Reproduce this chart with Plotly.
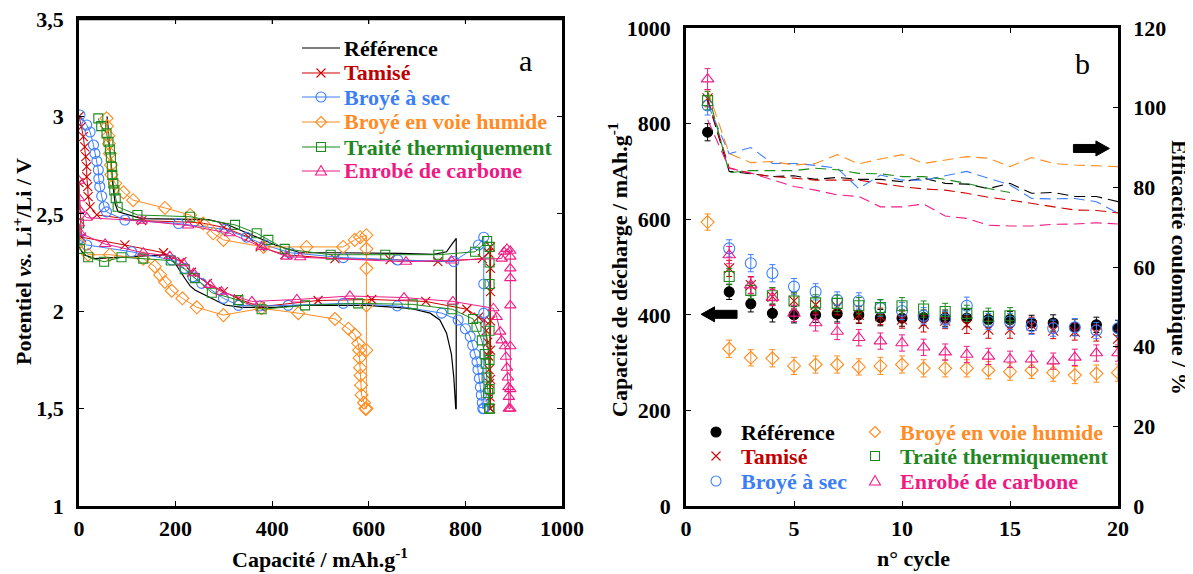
import plotly.graph_objects as go

FONT = "Liberation Serif, Times New Roman, Times, serif"

names = ["Référence", "Tamisé", "Broyé à sec", "Broyé en voie humide",
         "Traité thermiquement", "Enrobé de carbone"]
colors = ["#000000", "#d10000", "#3d7fff", "#ff8c1f", "#1d8a1d", "#f01c86"]
text_colors = ["#000000", "#c00000", "#3b7ef5", "#ff8c26", "#1e8622", "#ee1a85"]

# ---------------- Panel a : potential vs capacity ----------------
ref_cap = [0, 10, 33, 100, 183, 199, 210, 219, 230, 240, 268, 302, 337, 406, 458, 596, 685, 727, 747, 761, 771, 776, 780,
           781, 781, 781, 771, 761, 734, 665, 527, 458, 406, 351, 302, 268, 130, 81, 75, 70, 66, 63, 60, 58]
ref_v = [2.33, 2.29, 2.27, 2.28, 2.29, 2.246, 2.20, 2.169, 2.13, 2.109, 2.074, 2.032, 2.02, 2.02, 2.03, 2.03, 2.015, 1.99, 1.955, 1.887, 1.78, 1.66, 1.5,
         1.5, 2.0, 2.374, 2.34, 2.305, 2.292, 2.297, 2.30, 2.30, 2.34, 2.40, 2.45, 2.47, 2.475, 2.51, 2.55, 2.65, 2.75, 2.85, 2.95, 3.0]

tam_dis_cap = [0, 5, 95, 175, 213, 233, 266, 299, 330, 375, 495, 606, 718, 803, 827, 839, 843, 846, 848, 849, 850, 851, 851]
tam_dis_v = [2.66, 2.38, 2.34, 2.30, 2.254, 2.20, 2.143, 2.10, 2.063, 2.023, 2.055, 2.06, 2.05, 2.01, 1.97, 1.955, 1.90, 1.84, 1.77, 1.70, 1.63, 1.56, 1.5]
tam_ch_cap = [852, 852, 852, 852, 852, 852, 852, 848, 835, 743, 644, 530, 426, 375, 351, 300, 250, 130,
              37, 23, 19, 18, 16, 16, 14, 12, 9, 5, 0]
tam_ch_v = [1.5, 1.65, 1.8, 1.95, 2.1, 2.22, 2.33, 2.30, 2.27, 2.254, 2.265, 2.27, 2.29, 2.33, 2.38, 2.43, 2.455, 2.465,
            2.494, 2.536, 2.588, 2.64, 2.69, 2.742, 2.793, 2.844, 2.896, 2.947, 3.0]

bas_dis_cap = [0, 16, 109, 192, 219, 236, 254, 299, 330, 375, 433, 547, 659, 751, 785, 800, 810, 815, 820, 824,
               826, 829, 831, 833, 835, 836]
bas_dis_v = [2.37, 2.34, 2.305, 2.263, 2.22, 2.177, 2.143, 2.066, 2.03, 2.027, 2.03, 2.04, 2.027, 1.99, 1.955, 1.91,
             1.87, 1.825, 1.78, 1.74, 1.70, 1.655, 1.61, 1.57, 1.53, 1.5]
bas_ch_cap = [838, 838, 838, 838, 827, 776, 660, 547, 437, 385, 347, 302, 206, 95,
              57, 52, 47, 43, 41, 40, 37, 33, 30, 23, 16, 2]
bas_ch_v = [1.5, 1.99, 2.14, 2.38, 2.34, 2.255, 2.263, 2.275, 2.30, 2.34, 2.38, 2.42, 2.45, 2.468,
            2.51, 2.536, 2.59, 2.64, 2.68, 2.725, 2.77, 2.81, 2.853, 2.92, 2.956, 3.007]

hum_dis_cap = [0, 19, 64, 133, 157, 168, 178, 192, 214, 244, 299, 378, 454, 530, 558, 571, 578, 580, 581, 582,
               583, 584, 585, 590, 593]
hum_dis_v = [2.35, 2.29, 2.29, 2.27, 2.23, 2.186, 2.15, 2.105, 2.066, 2.02, 1.98, 2.015, 1.99, 1.96, 1.91, 1.88,
             1.835, 1.80, 1.76, 1.71, 1.67, 1.62, 1.57, 1.53, 1.5]
hum_ch_cap = [595, 595, 595, 595, 595, 595, 582, 571, 547, 471, 382, 299, 278, 257, 230, 178, 112, 92, 75, 67,
              66, 64, 62, 61, 58, 57]
hum_ch_v = [1.5, 1.80, 2.03, 2.22, 2.32, 2.39, 2.38, 2.366, 2.33, 2.33, 2.33, 2.366, 2.40, 2.45, 2.494, 2.53,
            2.57, 2.61, 2.656, 2.70, 2.75, 2.81, 2.86, 2.90, 2.95, 2.99]

trt_dis_cap = [0, 2, 19, 52, 88, 133, 190, 219, 240, 275, 330, 378, 468, 578, 691, 773, 816, 823, 834, 840,
               842, 844, 847, 849]
trt_dis_v = [2.45, 2.32, 2.277, 2.254, 2.277, 2.27, 2.26, 2.215, 2.17, 2.095, 2.057, 2.01, 2.03, 2.04, 2.035,
             2.01, 1.96, 1.92, 1.85, 1.78, 1.73, 1.66, 1.58, 1.5]
trt_ch_cap = [850, 850, 850, 850, 850, 850, 850, 845, 820, 744, 634, 521, 426, 392, 368, 323, 230, 121, 80, 76,
              73, 71, 69, 68, 66, 64, 61, 57, 46, 40]
trt_ch_v = [1.5, 1.6, 1.75, 1.9, 2.14, 2.25, 2.33, 2.36, 2.305, 2.29, 2.29, 2.29, 2.32, 2.366, 2.40, 2.443,
            2.485, 2.494, 2.536, 2.58, 2.62, 2.656, 2.70, 2.74, 2.79, 2.83, 2.87, 2.913, 2.95, 2.99]

car_dis_cap = [0, 3, 54, 133, 188, 216, 237, 271, 295, 358, 451, 561, 673, 774, 858, 865, 872, 875, 882, 884,
               886, 888, 889, 890, 890]
car_dis_v = [2.45, 2.40, 2.345, 2.30, 2.283, 2.246, 2.195, 2.135, 2.10, 2.05, 2.06, 2.078, 2.07, 2.05, 2.015,
             1.97, 1.895, 1.85, 1.82, 1.766, 1.71, 1.66, 1.61, 1.56, 1.5]
car_ch_cap = [893, 893, 893, 893, 893, 893, 893, 893, 886, 880, 875, 771, 677, 458, 430, 378, 312, 226, 130, 16,
              1, 0, 0]
car_ch_v = [1.5, 1.6, 1.82, 2.03, 2.17, 2.22, 2.28, 2.31, 2.32, 2.305, 2.27, 2.26, 2.254, 2.277, 2.28, 2.33,
            2.40, 2.44, 2.464, 2.48, 2.52, 2.58, 2.67]

# ---------------- Panel b : cycling ----------------
cycles = list(range(1, 21))
cycles_trt = list(range(1, 16))

cap_ref = [782, 448, 423, 403, 400, 400, 402, 400, 394, 393, 394, 393, 393, 390, 390, 383, 383, 374, 379, 372]
cap_tam = [853, 497, 462, 438, 429, 421, 417, 400, 397, 390, 381, 388, 379, 369, 369, 378, 367, 365, 362, 350]
cap_bas = [838, 539, 508, 487, 459, 448, 431, 429, 414, 408, 398, 390, 419, 386, 386, 376, 372, 374, 367, 372]
cap_hum = [594, 329, 310, 309, 293, 296, 296, 291, 293, 296, 288, 288, 288, 284, 281, 284, 279, 274, 277, 279]
cap_trt = [848, 480, 451, 440, 429, 425, 424, 419, 415, 419, 412, 407, 403, 397, 398]
cap_car = [893, 525, 462, 436, 403, 383, 365, 352, 345, 341, 332, 322, 317, 313, 307, 307, 303, 311, 320, 320]

err_ref = [18, 16, 17, 18, 17, 16, 17, 18, 17, 17, 16, 17, 18, 17, 17, 16, 17, 17, 16, 16]
err_tam = [18, 17, 18, 18, 17, 17, 17, 17, 17, 18, 17, 17, 18, 18, 18, 17, 17, 18, 17, 18]
err_bas = [20, 18, 18, 18, 17, 17, 17, 17, 17, 18, 17, 17, 18, 17, 17, 17, 17, 18, 17, 17]
err_hum = [17, 18, 17, 18, 18, 18, 18, 17, 18, 18, 18, 18, 18, 18, 18, 17, 18, 18, 18, 18]
err_trt = [19, 17, 17, 17, 17, 17, 17, 17, 17, 17, 17, 17, 17, 17, 17]
err_car = [22, 18, 17, 17, 17, 17, 17, 17, 17, 17, 17, 17, 17, 17, 17, 17, 17, 17, 17, 17]

eff_ref = [101.9, 84.0, 83.4, 82.7, 82.9, 82.0, 82.5, 82.0, 82.0, 81.4, 82.3, 81.0, 80.8, 79.7, 81.0, 78.5, 78.7, 77.7, 77.7, 76.4]
eff_tam = [102.3, 84.9, 83.5, 82.7, 82.3, 81.8, 81.8, 81.8, 81.0, 80.2, 79.6, 79.3, 78.5, 77.5, 76.8, 76.0, 75.1, 74.3, 74.2, 73.6]
eff_bas = [101.0, 88.4, 90.0, 86.0, 86.0, 85.5, 84.8, 79.7, 83.1, 81.8, 81.8, 82.9, 84.0, 82.3, 80.6, 77.2, 77.1, 77.2, 76.4, 73.5]
eff_hum = [104.4, 88.5, 86.2, 86.5, 85.6, 86.0, 88.2, 85.9, 87.1, 88.2, 86.0, 86.9, 87.7, 87.3, 85.2, 87.5, 86.0, 85.6, 85.4, 85.2]
eff_trt = [104.0, 83.7, 84.2, 84.2, 84.2, 84.8, 84.4, 83.5, 83.4, 82.7, 82.7, 82.0, 81.0, 79.7, 78.7]
eff_car = [97.0, 84.8, 83.6, 81.8, 80.2, 79.3, 78.1, 77.7, 75.1, 75.1, 75.8, 72.8, 72.2, 70.5, 70.3, 70.3, 70.7, 70.8, 71.1, 70.8]

x_ticks_a = [0, 200, 400, 600, 800, 1000]
y_ticks_a = [1, 1.5, 2, 2.5, 3, 3.5]
y_ticktext_a = ["1", "1,5", "2", "2,5", "3", "3,5"]
x_ticks_b = [0, 5, 10, 15, 20]
y_ticks_b = [0, 200, 400, 600, 800, 1000]
y_ticks_eff = [0, 20, 40, 60, 80, 100, 120]

# ---------------- geometry helpers (page pixels -> paper) ----------------
OFF = 8                      # default page margin of the html body
FIG_W, FIG_H = 1193 - OFF, 574 - OFF
L, R, T, B = 79, 1118, 19, 506   # plot area in page pixels
W, H = R - L, B - T


def px(x):
    return (x - L) / W


def py(y):
    return (B - y) / H


fig = go.Figure()

symbols_a = [None, "x-thin", "circle-open", "diamond-open", "square-open", "triangle-up-open"]
curves_a = [
    (ref_cap, ref_v),
    (tam_dis_cap + tam_ch_cap, tam_dis_v + tam_ch_v),
    (bas_dis_cap + bas_ch_cap, bas_dis_v + bas_ch_v),
    (hum_dis_cap + hum_ch_cap, hum_dis_v + hum_ch_v),
    (trt_dis_cap + trt_ch_cap, trt_dis_v + trt_ch_v),
    (car_dis_cap + car_ch_cap, car_dis_v + car_ch_v),
]
sizes_a = [0, 9, 10, 10, 9, 10]
for i, (xs, ys) in enumerate(curves_a):
    if symbols_a[i] is None:
        fig.add_trace(go.Scatter(x=xs, y=ys, mode="lines", name=names[i], showlegend=False,
                                 line=dict(color=colors[i], width=1.2), xaxis="x", yaxis="y"))
    else:
        fig.add_trace(go.Scatter(x=xs, y=ys, mode="lines+markers", name=names[i], showlegend=False,
                                 line=dict(color=colors[i], width=1),
                                 marker=dict(symbol=symbols_a[i], size=sizes_a[i], color=colors[i],
                                             line=dict(color=colors[i], width=1.1)),
                                 xaxis="x", yaxis="y"))

# efficiency dashed lines (right axis)
eff_series = [(cycles, eff_ref), (cycles, eff_tam), (cycles, eff_bas), (cycles, eff_hum),
              (cycles_trt, eff_trt), (cycles, eff_car)]
for i, (xs, ys) in enumerate(eff_series):
    fig.add_trace(go.Scatter(x=xs, y=ys, mode="lines", name=names[i] + " (efficacité)", showlegend=False,
                             line=dict(color=colors[i], width=1.1, dash="11px,6px"),
                             xaxis="x2", yaxis="y3"))

# discharge capacity markers (left axis of panel b)
symbols_b = ["circle", "x-thin", "circle-open", "diamond-open", "square-open", "triangle-up-open"]
cap_series = [(cycles, cap_ref, err_ref), (cycles, cap_tam, err_tam), (cycles, cap_bas, err_bas),
              (cycles, cap_hum, err_hum), (cycles_trt, cap_trt, err_trt), (cycles, cap_car, err_car)]
sizes_b = [10, 10, 11, 10, 10, 11]
for i, (xs, ys, es) in enumerate(cap_series):
    fig.add_trace(go.Scatter(x=xs, y=ys, mode="markers", name=names[i], showlegend=False,
                             marker=dict(symbol=symbols_b[i], size=sizes_b[i], color=colors[i],
                                         line=dict(color=colors[i], width=1.1)),
                             error_y=dict(type="data", array=es, color=colors[i], thickness=1, width=3),
                             xaxis="x2", yaxis="y2"))

tickfont = dict(family=FONT, size=22, color="black", weight="bold")
axis_common = dict(showline=True, linewidth=2.5, linecolor="black", ticks="inside", ticklen=5,
                   tickwidth=1, tickcolor="black", showgrid=False, zeroline=False, tickfont=tickfont,
                   automargin=False, ticklabeloverflow="allow")

fig.update_layout(
    width=FIG_W, height=FIG_H,
    margin=dict(l=L - OFF, r=FIG_W - (R - OFF), t=T - OFF, b=FIG_H - (B - OFF), pad=0),
    paper_bgcolor="white", plot_bgcolor="white",
    showlegend=False,
    xaxis=dict(domain=[0, px(562)], range=[0, 1000], tickvals=x_ticks_a, anchor="y", mirror="ticks",
               ticklabelstandoff=1, **axis_common),
    yaxis=dict(domain=[0, 1], range=[1, 3.5], tickvals=y_ticks_a, ticktext=y_ticktext_a, anchor="x",
               mirror="ticks", ticklabelstandoff=8, **axis_common),
    xaxis2=dict(domain=[px(686), 1], range=[0, 20], tickvals=x_ticks_b, anchor="y2", mirror="ticks",
                ticklabelstandoff=1, **axis_common),
    yaxis2=dict(domain=[0, py(28)], range=[0, 1000], tickvals=y_ticks_b, anchor="x2",
                ticklabelstandoff=8, **axis_common),
    yaxis3=dict(overlaying="y2", side="right", anchor="x2", range=[0, 120], tickvals=y_ticks_eff,
                ticklabelstandoff=8, **axis_common),
)

title_font = dict(family=FONT, size=22, color="black", weight="bold")
annotations = [
    dict(text="Potentiel <i>vs.</i> Li<sup>+</sup>/Li / V", x=px(22), y=py(262), textangle=-90),
    dict(text="Capacité / mAh.g<sup>-1</sup>", x=px(320), y=py(558)),
    dict(text="Capacité de décharge / mAh.g<sup>-1</sup>", x=px(618), y=py(270), textangle=-90),
    dict(text="Efficacité coulombique / %", x=px(1180), y=py(267), textangle=90),
    dict(text="n° cycle", x=px(913), y=py(558)),
]
for a in annotations:
    a.update(xref="paper", yref="paper", showarrow=False, font=title_font, xanchor="center", yanchor="middle")
annotations.append(dict(text="a", x=px(525), y=py(61), xref="paper", yref="paper", showarrow=False,
                        font=dict(family=FONT, size=30, color="black"), xanchor="center", yanchor="middle"))
annotations.append(dict(text="b", x=px(1082), y=py(63), xref="paper", yref="paper", showarrow=False,
                        font=dict(family=FONT, size=30, color="black"), xanchor="center", yanchor="middle"))

shapes = []

# top edge of panel a (paper referenced so that it is never clipped)
shapes.append(dict(type="line", xref="paper", yref="paper", x0=px(78), x1=px(563), y0=py(19), y1=py(19),
                   line=dict(color="black", width=2.5), layer="above"))
# small inward ticks on the top edge of panel a
for tv in x_ticks_a[1:-1]:
    shapes.append(dict(type="line", xref="paper", yref="paper", x0=px(79 + tv * 0.483), x1=px(79 + tv * 0.483),
                       y0=py(19), y1=py(24), line=dict(color="black", width=1), layer="above"))


def key_marker(kind, xp, yp, col):
    s = dict(xref="paper", yref="paper", xsizemode="pixel", ysizemode="pixel",
             xanchor=px(xp), yanchor=py(yp), line=dict(color=col, width=1.1), layer="above")
    if kind == "dot":
        s.update(type="circle", x0=-5, x1=5, y0=-5, y1=5, fillcolor=col)
    elif kind == "circle":
        s.update(type="circle", x0=-5, x1=5, y0=-5, y1=5)
    elif kind == "square":
        s.update(type="rect", x0=-4.5, x1=4.5, y0=-4.5, y1=4.5)
    elif kind == "triangle":
        s.update(type="path", path="M-5.5,-4 L5.5,-4 L0,5.5 Z")
    elif kind == "diamond":
        s.update(type="path", path="M0,5.5 L5.5,0 L0,-5.5 L-5.5,0 Z")
    elif kind == "x":
        s.update(type="path", path="M-4.5,-4.5 L4.5,4.5 M-4.5,4.5 L4.5,-4.5")
    return s


legend_font = dict(family=FONT, size=22, weight="bold")

# legend of panel a
kinds_a = [None, "x", "circle", "diamond", "square", "triangle"]
rows_a = [48, 73, 97, 122, 147, 171]
for i, yrow in enumerate(rows_a):
    shapes.append(dict(type="line", xref="paper", yref="paper", x0=px(302), x1=px(340), y0=py(yrow), y1=py(yrow),
                       line=dict(color=colors[i], width=1.1)))
    if kinds_a[i]:
        shapes.append(key_marker(kinds_a[i], 321, yrow, colors[i]))
    annotations.append(dict(text=names[i], x=px(342), y=py(yrow), xref="paper", yref="paper", showarrow=False,
                            xanchor="left", yanchor="middle", font=dict(color=text_colors[i], **legend_font)))

# legend of panel b (two columns)
kinds_b = ["dot", "x", "circle", "diamond", "square", "triangle"]
rows_b = [432, 456, 481]
for i in range(6):
    col = i // 3
    yrow = rows_b[i % 3]
    xm = 716 if col == 0 else 875
    xt = 739 if col == 0 else 898
    shapes.append(key_marker(kinds_b[i], xm, yrow, colors[i]))
    annotations.append(dict(text=names[i], x=px(xt), y=py(yrow), xref="paper", yref="paper", showarrow=False,
                            xanchor="left", yanchor="middle", font=dict(color=text_colors[i], **legend_font)))

# block arrows pointing to the relevant axes
shapes.append(dict(type="path", xref="x2", yref="y2", xsizemode="pixel", ysizemode="pixel",
                   xanchor=1.53, yanchor=401,
                   path="M-18,0 L-4.5,7.5 L-4.5,4 L18,4 L18,-4 L-4.5,-4 L-4.5,-7.5 Z",
                   fillcolor="black", line=dict(color="black", width=1)))
shapes.append(dict(type="path", xref="x2", yref="y2", xsizemode="pixel", ysizemode="pixel",
                   xanchor=18.77, yanchor=748,
                   path="M18,0 L4.5,7.5 L4.5,4 L-18,4 L-18,-4 L4.5,-4 L4.5,-7.5 Z",
                   fillcolor="black", line=dict(color="black", width=1)))

fig.update_layout(annotations=annotations, shapes=shapes)

fig.write_html("out.html", config={"displayModeBar": False})
